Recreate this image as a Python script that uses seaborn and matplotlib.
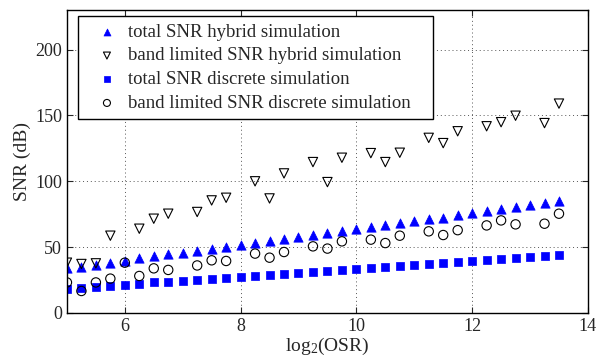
import numpy as np
import pandas as pd
import seaborn as sns
import matplotlib.pyplot as plt

# total SNR, every quarter step of log2(OSR)
x_total = np.arange(5, 13.51, 0.25)
snr_total_hybrid = [34.0, 35.2, 36.2, 38.2, 39.5, 41.7, 43.0, 44.5, 45.8, 47.3,
                    48.6, 50.1, 51.6, 53.1, 54.6, 56.1, 57.7, 59.0, 60.7, 62.2,
                    63.7, 65.3, 66.5, 68.1, 69.8, 71.1, 72.4, 74.1, 75.9, 77.2,
                    78.7, 80.4, 81.7, 83.5, 85.0]
snr_total_discrete = [18.5, 19.3, 19.7, 20.5, 21.2, 22.3, 23.3, 23.8, 24.6, 25.3,
                      26.1, 26.9, 27.3, 28.1, 28.6, 29.4, 30.3, 31.1, 31.9, 32.4,
                      33.4, 34.1, 34.9, 35.7, 36.4, 37.2, 37.9, 38.7, 39.5, 40.2,
                      40.7, 41.5, 42.3, 43.0, 43.8]

# band limited SNR (no points at most integer values)
x_bl_hybrid = [5, 5.25, 5.5, 5.75, 6.25, 6.5, 6.75, 7.25, 7.5, 7.75, 8.25, 8.5, 8.75,
               9.25, 9.5, 9.75, 10.25, 10.5, 10.75, 11.25, 11.5, 11.75, 12.25, 12.5,
               12.75, 13.25, 13.5]
snr_bl_hybrid = [38.2, 37.2, 37.7, 58.7, 64.0, 71.6, 75.4, 76.7, 85.5, 87.5, 100.0,
                 87.0, 106.0, 114.6, 99.4, 117.9, 121.4, 114.6, 121.7, 133.0, 129.0,
                 138.0, 141.8, 144.9, 149.8, 144.2, 159.0]
x_bl_discrete = [5, 5.25, 5.5, 5.75, 6.0, 6.25, 6.5, 6.75, 7.25, 7.5, 7.75, 8.25, 8.5,
                 8.75, 9.25, 9.5, 9.75, 10.25, 10.5, 10.75, 11.25, 11.5, 11.75, 12.25,
                 12.5, 12.75, 13.25, 13.5]
snr_bl_discrete = [23.2, 16.7, 23.2, 26.1, 38.2, 28.1, 33.9, 32.7, 36.1, 40.0, 39.5,
                   45.1, 42.0, 46.3, 50.6, 48.9, 54.4, 55.7, 53.1, 58.7, 62.0, 59.2,
                   62.9, 66.5, 70.3, 67.3, 67.8, 75.4]

sns.set_style('ticks')
plt.rcParams['font.family'] = ['Liberation Serif', 'DejaVu Serif']
plt.rcParams['mathtext.default'] = 'regular'

fig = plt.figure(figsize=(6.03, 3.61), dpi=100)
ax = fig.add_axes([0.111, 0.133, 0.864, 0.839])

sns.scatterplot(x=x_total, y=snr_total_hybrid, marker='^', color='blue', s=45,
                edgecolor='blue', linewidth=0.5, label='total SNR hybrid simulation', ax=ax)
sns.scatterplot(x=x_bl_hybrid, y=snr_bl_hybrid, marker='v', s=45, facecolor='none',
                edgecolor='black', linewidth=0.8,
                label='band limited SNR hybrid simulation', ax=ax)
sns.scatterplot(x=x_total, y=snr_total_discrete, marker='s', color='blue', s=28,
                edgecolor='blue', linewidth=0.5, label='total SNR discrete simulation', ax=ax)
sns.scatterplot(x=x_bl_discrete, y=snr_bl_discrete, marker='o', s=45, facecolor='none',
                edgecolor='black', linewidth=0.8,
                label='band limited SNR discrete simulation', ax=ax)

ax.set_xlim(5, 14)
ax.set_ylim(0, 230)
ax.set_xticks([6, 8, 10, 12, 14])
ax.set_yticks([0, 50, 100, 150, 200])
ax.grid(True, linestyle=(0, (1, 3)), color='#555555', linewidth=0.7)
ax.tick_params(direction='in', top=True, right=True, labelsize=13, length=4, width=0.8)
for sp in ax.spines.values():
    sp.set_linewidth(1.0)
    sp.set_color('black')

ax.set_xlabel('$log_2$(OSR)', fontsize=14, labelpad=1)
ax.set_ylabel('SNR (dB)', fontsize=14, labelpad=3)

# legend box spans roughly x 78-433 px, top at 16 px
leg = ax.legend(loc='upper left', bbox_to_anchor=(0.021, 0.0, 0.681, 0.980),
                mode='expand', fontsize=13.5, frameon=True, fancybox=False,
                framealpha=1, edgecolor='black', borderpad=0.4, labelspacing=0.35,
                handlelength=2.3, handletextpad=0.0, borderaxespad=0.0,
                markerscale=0.75)
leg.get_frame().set_linewidth(1.0)

fig.savefig('out.png', dpi=100)
